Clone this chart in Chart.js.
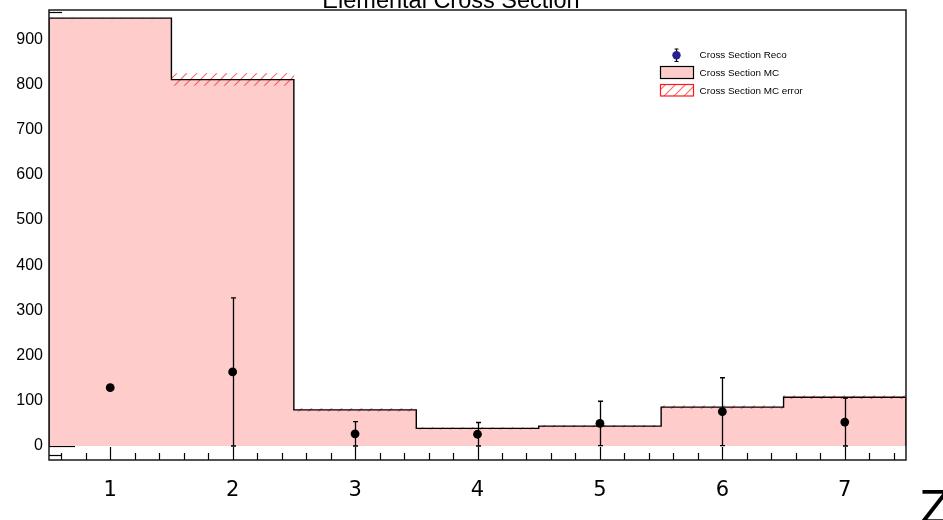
<!DOCTYPE html>
<html>
<head>
<meta charset="utf-8">
<script src="https://cdn.jsdelivr.net/npm/chart.js@4/dist/chart.umd.min.js"></script>
<style>
  html, body { margin: 0; padding: 0; background: #ffffff; }
  #wrap { width: 943px; height: 520px; position: relative; }
</style>
</head>
<body>
<div id="wrap"><canvas id="c" width="943" height="520"></canvas></div>
<script>
// Bin centres (atomic number Z) and the values per bin
const binCenters = [1, 2, 3, 4, 5, 6, 7];
const mcValues   = [947, 811, 80, 39, 44, 86, 108];
const mcErrors   = [0, 13, 3, 2, 2, 3, 3];
const recoValues = [129, 164, 27, 26, 50, 76, 53];
const recoErrors = [0, 164, 27, 26, 49, 75, 53];

// Axis tick labels
const xTickValues = [1, 2, 3, 4, 5, 6, 7];
const yTickValues = [0, 100, 200, 300, 400, 500, 600, 700, 800, 900];

const titleText = 'Elemental Cross Section';
const xAxisTitle = 'Z';
const legendLabels = ['Cross Section Reco', 'Cross Section MC', 'Cross Section MC error'];

const BIN_WIDTH = 1;
const FILL_PINK = '#ffcccc';

// Step outline of the MC histogram built from the bin edges
function stepPoints(values) {
  const pts = [];
  values.forEach((v, i) => {
    const lo = binCenters[i] - BIN_WIDTH / 2;
    const hi = binCenters[i] + BIN_WIDTH / 2;
    if (i === 0) pts.push({ x: lo, y: 0 });
    pts.push({ x: lo, y: v });
    pts.push({ x: hi, y: v });
    if (i === values.length - 1) pts.push({ x: hi, y: 0 });
  });
  return pts;
}

// Diagonal red hatch used for the MC error band
function makeHatch() {
  const p = document.createElement('canvas');
  p.width = 10; p.height = 10;
  const g = p.getContext('2d');
  g.strokeStyle = 'rgba(255,50,50,0.75)';
  g.lineWidth = 1.1;
  g.beginPath();
  g.moveTo(0, 10); g.lineTo(10, 0);
  g.moveTo(-1, 1); g.lineTo(1, -1);
  g.moveTo(9, 11); g.lineTo(11, 9);
  g.stroke();
  return document.getElementById('c').getContext('2d').createPattern(p, 'repeat');
}
const hatch = makeHatch();

const histPoints = stepPoints(mcValues);
const errorBand = binCenters.map((x, i) => ({ x: x, y: [mcValues[i] - mcErrors[i], mcValues[i] + mcErrors[i]] }));
const recoPoints = binCenters.map((x, i) => ({ x: x, y: recoValues[i] }));

const rootStyle = {
  id: 'rootStyle',
  beforeDatasetsDraw(chart) {
    // y-axis ticks pointing into the frame; the histogram fill covers most of them
    const { ctx, chartArea: ca, scales: { y } } = chart;
    ctx.save();
    ctx.strokeStyle = '#000';
    ctx.lineWidth = 1.2;
    for (let v = -20; v <= 960; v += 20) {
      const py = Math.round(y.getPixelForValue(v)) + 0.5;
      if (py < ca.top || py > ca.bottom) continue;
      const len = (v % 100 === 0) ? 26 : 13;
      ctx.beginPath();
      ctx.moveTo(ca.left, py);
      ctx.lineTo(ca.left + len, py);
      ctx.stroke();
    }
    ctx.restore();
  },
  afterDatasetsDraw(chart) {
    const { ctx, chartArea: ca, scales: { x, y } } = chart;
    ctx.save();

    // Reco error bars
    ctx.strokeStyle = '#000';
    ctx.lineWidth = 1.3;
    binCenters.forEach((c, i) => {
      const e = recoErrors[i];
      if (!e) return;
      const px = Math.round(x.getPixelForValue(c)) + 0.5;
      const top = y.getPixelForValue(recoValues[i] + e);
      const bot = y.getPixelForValue(recoValues[i] - e);
      ctx.beginPath();
      ctx.moveTo(px, top); ctx.lineTo(px, bot);
      ctx.moveTo(px - 2.5, top); ctx.lineTo(px + 2.5, top);
      ctx.moveTo(px - 2.5, bot); ctx.lineTo(px + 2.5, bot);
      ctx.stroke();
    });

    // x-axis ticks pointing up from the bottom edge
    ctx.lineWidth = 1.2;
    for (let k = 0; k <= 35; k++) {
      const v = 0.6 + k * 0.2;
      if (v > 7.5) break;
      const px = Math.round(x.getPixelForValue(v)) + 0.5;
      const major = Math.abs(v - Math.round(v)) < 1e-6;
      ctx.beginPath();
      ctx.moveTo(px, ca.bottom);
      ctx.lineTo(px, ca.bottom - (major ? 13 : 7));
      ctx.stroke();
    }

    // Frame
    ctx.strokeStyle = '#1a1a1a';
    ctx.lineWidth = 1.5;
    ctx.strokeRect(ca.left, ca.top, ca.right - ca.left, ca.bottom - ca.top);

    // Title
    ctx.fillStyle = '#000';
    ctx.font = '23.5px "Liberation Sans", Arial, sans-serif';
    ctx.textAlign = 'center';
    ctx.textBaseline = 'alphabetic';
    ctx.fillText(titleText, 451, 7.5);

    // Axis title
    ctx.font = '44px "DejaVu Sans", sans-serif';
    ctx.textAlign = 'left';
    ctx.fillText(xAxisTitle, 920, 523);

    // Legend
    ctx.font = '9.9px "Liberation Sans", Arial, sans-serif';
    ctx.textBaseline = 'middle';
    // entry 1: marker with error bar
    ctx.strokeStyle = '#000';
    ctx.lineWidth = 1.2;
    ctx.beginPath();
    ctx.moveTo(676.5, 49); ctx.lineTo(676.5, 61.5);
    ctx.moveTo(674.5, 49); ctx.lineTo(678.5, 49);
    ctx.moveTo(674.5, 61.5); ctx.lineTo(678.5, 61.5);
    ctx.stroke();
    ctx.fillStyle = '#2a1f8f';
    ctx.beginPath();
    ctx.arc(676.5, 55.3, 4.2, 0, Math.PI * 2);
    ctx.fill();
    ctx.fillStyle = '#000';
    ctx.fillText(legendLabels[0], 699.5, 55.5);
    // entry 2: filled box
    ctx.fillStyle = FILL_PINK;
    ctx.fillRect(660.5, 66.5, 33, 12);
    ctx.strokeStyle = '#000';
    ctx.strokeRect(660.5, 66.5, 33, 12);
    ctx.fillStyle = '#000';
    ctx.fillText(legendLabels[1], 699.5, 72.8);
    // entry 3: hatched box
    ctx.fillStyle = '#fff';
    ctx.fillRect(660.5, 84.5, 33, 11.5);
    ctx.fillStyle = hatch;
    ctx.fillRect(660.5, 84.5, 33, 11.5);
    ctx.strokeStyle = '#ff1a1a';
    ctx.strokeRect(660.5, 84.5, 33, 11.5);
    ctx.fillStyle = '#000';
    ctx.fillText(legendLabels[2], 699.5, 90.8);

    ctx.restore();
  }
};

new Chart(document.getElementById('c'), {
  type: 'line',
  data: {
    datasets: [
      {
        label: 'MC fill',
        type: 'line',
        data: histPoints,
        borderWidth: 0,
        borderColor: 'rgba(0,0,0,0)',
        backgroundColor: FILL_PINK,
        fill: { value: 0 },
        pointRadius: 0,
        tension: 0,
        order: 5
      },
      {
        label: legendLabels[2],
        type: 'bar',
        data: errorBand,
        backgroundColor: hatch,
        borderWidth: 0,
        categoryPercentage: 1,
        barPercentage: 1,
        order: 4
      },
      {
        label: legendLabels[1],
        type: 'line',
        data: histPoints,
        borderColor: '#000',
        borderWidth: 1.4,
        fill: false,
        pointRadius: 0,
        tension: 0,
        order: 3
      },
      {
        label: legendLabels[0],
        type: 'scatter',
        data: recoPoints,
        backgroundColor: '#000',
        borderWidth: 0,
        pointRadius: 4.4,
        order: 1
      }
    ]
  },
  options: {
    responsive: false,
    animation: false,
    devicePixelRatio: 1,
    layout: { padding: { top: 10, right: 37, left: 0, bottom: 0 } },
    plugins: {
      legend: { display: false },
      title: { display: false },
      tooltip: { enabled: false }
    },
    scales: {
      x: {
        type: 'linear',
        min: 0.5,
        max: 7.5,
        offset: false,
        grid: { display: false, drawTicks: false },
        border: { display: false },
        afterBuildTicks: (s) => { s.ticks = xTickValues.map(v => ({ value: v })); },
        afterFit: (s) => { s.height = 60; s.paddingLeft = 0; s.paddingRight = 0; },
        ticks: {
          color: '#000',
          font: { family: '"DejaVu Sans", sans-serif', size: 21 },
          padding: 18,
          maxRotation: 0,
          autoSkip: false
        }
      },
      y: {
        type: 'linear',
        min: -31,
        max: 965,
        grid: { display: false, drawTicks: false },
        border: { display: false },
        afterBuildTicks: (s) => { s.ticks = yTickValues.map(v => ({ value: v })); },
        afterFit: (s) => { s.width = 49; s.paddingTop = 0; s.paddingBottom = 0; },
        ticks: {
          color: '#000',
          font: { family: '"Liberation Sans", Arial, sans-serif', size: 16 },
          padding: 6,
          autoSkip: false
        }
      }
    }
  },
  plugins: [rootStyle]
});
</script>
</body>
</html>
